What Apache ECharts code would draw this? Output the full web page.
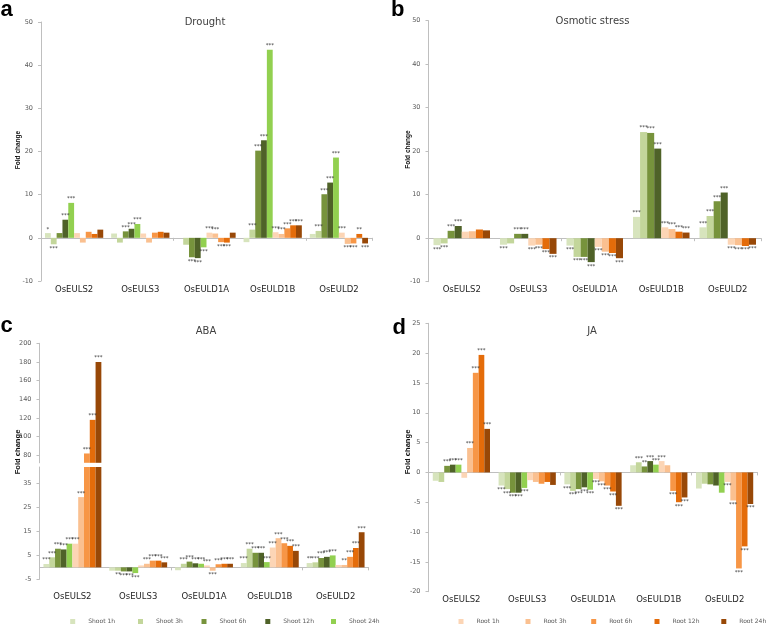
<!DOCTYPE html>
<html><head><meta charset="utf-8">
<script src="https://cdn.jsdelivr.net/npm/echarts@6/dist/echarts.min.js"></script>
<style>html,body{margin:0;padding:0;background:#fff}#c{width:778px;height:627px}</style>
</head><body><div id="c"></div>
<script>
const categories = ['OsEULS2','OsEULS3','OsEULD1A','OsEULD1B','OsEULD2'];
const shootNames = ['Shoot 1h','Shoot 3h','Shoot 6h','Shoot 12h','Shoot 24h'];
const rootNames = ['Root 1h','Root 3h','Root 6h','Root 12h','Root 24h'];
const shootColors = ['#d7e4bd','#c3d69b','#77933c','#4f6228','#92d050'];
const rootColors = ['#fcd5b5','#fac090','#f79646','#e46c0a','#984807'];

// tick labels
const ticksDrought = [-10,0,10,20,30,40,50];
const ticksOsmotic = [-10,0,10,20,30,40,50];
const ticksAbaUpper = [80,100,120,140,160,180,200];
const ticksAbaLower = [-5,5,15,25,35];
const ticksJa = [-20,-15,-10,-5,0,5,10,15,20,25];

// (a) Drought: rows S1h,S3h,S6h,S12h,S24h,R1h,R3h,R6h,R12h,R24h ; cols = categories
const droughtValues = [
  [1.1, 1.0, 0.0, -1.0, 0.9],
  [-1.5, -1.1, -1.6, 1.9, 1.6],
  [1.1, 1.5, -4.5, 20.2, 10.1],
  [4.2, 2.1, -4.7, 22.6, 12.8],
  [8.1, 3.2, -2.2, 43.6, 18.6],
  [1.1, 1.0, 1.2, 1.3, 1.2],
  [-1.1, -1.1, 1.0, 0.9, -1.4],
  [1.4, 1.2, -1.0, 2.2, -1.3],
  [0.9, 1.4, -1.1, 2.9, 0.9],
  [1.9, 1.2, 1.2, 2.9, -1.3]
];
const droughtSig = [
  ['*','','','',''],
  ['***','','','***','***'],
  ['','***','***','***','***'],
  ['***','***','***','***','***'],
  ['***','***','***','***','***'],
  ['','','***','***','***'],
  ['','','***','***','***'],
  ['','','***','***','***'],
  ['','','***','***','**'],
  ['','','','***','***']
];

// (b) Osmotic stress: 8 series
const osmoticNames = ['Shoot 1h','Shoot 3h','Shoot 6h','Shoot 12h','Root 1h','Root 3h','Root 12h','Root 24h'];
const osmoticColors = ['#d7e4bd','#c3d69b','#77933c','#4f6228','#fcd5b5','#fac090','#e46c0a','#984807'];
const osmoticValues = [
  [-1.6, -1.5, -1.7, 4.9, 2.5],
  [-1.2, -1.2, -4.3, 24.4, 5.1],
  [1.7, 1.0, -4.3, 24.2, 8.5],
  [2.8, 1.0, -5.5, 20.6, 10.5],
  [1.5, -1.7, -2.0, 2.5, -1.5],
  [1.6, -1.5, -3.1, 2.1, -1.6],
  [2.0, -2.5, -3.4, 1.5, -1.8],
  [1.8, -3.6, -4.6, 1.3, -1.5]
];
const osmoticSig = [
  ['***','***','***','***','***'],
  ['***','','***','***','***'],
  ['***','***','***','***','***'],
  ['***','***','***','***','***'],
  ['','***','***','***','***'],
  ['','***','***','***','***'],
  ['','***','***','***','***'],
  ['','***','***','***','***']
];

// (c) ABA
const abaValues = [
  [1.4, -1.4, -1.2, 1.8, 1.8],
  [4.2, -1.4, 1.5, 7.8, 2.1],
  [7.8, -1.7, 2.4, 6.1, 3.9],
  [7.5, -1.7, 1.7, 6.1, 4.4],
  [9.9, -2.4, 1.5, 2.2, 5.0],
  [9.9, 0.8, 0.8, 8.3, 1.0],
  [29.4, 1.5, -1.4, 12.2, 1.0],
  [82, 2.8, 1.3, 10.1, 4.4],
  [118, 2.8, 1.5, 9.0, 8.1],
  [180, 2.1, 1.5, 6.9, 14.7]
];
const abaSig = [
  ['***','','','***','**'],
  ['***','**','***','***','***'],
  ['***','***','***','***','***'],
  ['***','***','***','***','***'],
  ['***','***','***','***','***'],
  ['***','','***','***',''],
  ['***','***','***','***','**'],
  ['***','***','***','***','***'],
  ['***','***','***','***','***'],
  ['***','***','***','***','***']
];

// (d) JA
const jaValues = [
  [-1.4, -2.2, -2.0, 1.2, -2.7],
  [-1.6, -2.8, -3.1, 1.7, -1.9],
  [1.1, -3.4, -2.8, 1.0, -2.0],
  [1.3, -3.4, -2.5, 1.9, -2.2],
  [1.3, -2.6, -2.9, 1.3, -3.4],
  [-0.9, -1.3, -1.1, 1.9, -1.6],
  [4.1, -1.6, -1.5, 1.2, -4.7],
  [16.7, -1.9, -2.2, -3.1, -16.1],
  [19.7, -1.6, -3.2, -5.0, -12.4],
  [7.3, -2.1, -5.6, -4.2, -5.3]
];
const jaSig = [
  ['','***','***','',''],
  ['','***','***','***',''],
  ['***','***','***','**',''],
  ['***','***','***','***',''],
  ['***','***','***','***',''],
  ['','','***','***','***'],
  ['***','','***','','***'],
  ['***','','***','***','***'],
  ['***','','***','***','***'],
  ['***','','***','***','***']
];

const FONT = 'DejaVu Sans';
const allNames = shootNames.concat(rootNames);
const allColors = shootColors.concat(rootColors);

function makeSeries(name, color, values, sig, xIdx, yIdx, gap, visible) {
  return {
    type: 'bar', name: name, xAxisIndex: xIdx, yAxisIndex: yIdx,
    barGap: '0%', barCategoryGap: gap, animation: false, clip: true,
    itemStyle: { color: color },
    label: { fontSize: 5.5, color: '#333', fontFamily: FONT, distance: 1 },
    data: values.map((v, i) => ({
      value: v,
      label: { show: sig[i] !== '' && visible(v), formatter: sig[i], position: v >= 0 ? 'top' : 'bottom' }
    }))
  };
}

function yAxis(gridIndex, min, max, ticks) {
  return {
    type: 'value', gridIndex: gridIndex, min: min, max: max,
    splitLine: { show: false },
    axisLine: { show: true, lineStyle: { color: '#bfbfbf' } },
    axisTick: { show: true, length: 3, lineStyle: { color: '#bfbfbf' }, customValues: ticks },
    axisLabel: { fontSize: 6.5, color: '#595959', fontFamily: FONT, margin: 8, customValues: ticks }
  };
}
function xLabelAxis(gridIndex, margin) {
  return {
    type: 'category', gridIndex: gridIndex, data: categories, position: 'bottom',
    axisLine: { show: false, onZero: false }, axisTick: { show: false },
    axisLabel: { fontSize: 8.5, color: '#1f1f1f', fontFamily: FONT, margin: margin }
  };
}
function xZeroAxis(gridIndex) {
  return {
    type: 'category', gridIndex: gridIndex, data: categories, position: 'bottom',
    axisLine: { show: true, onZero: true, lineStyle: { color: '#bfbfbf' } },
    axisTick: { show: true, length: 3, lineStyle: { color: '#bfbfbf' } },
    axisLabel: { show: false }
  };
}

const series = [];
const always = () => true;
droughtValues.forEach((vals, k) => series.push(makeSeries(allNames[k], allColors[k], vals, droughtSig[k], 0, 0, '12%', always)));
osmoticValues.forEach((vals, k) => series.push(makeSeries(osmoticNames[k], osmoticColors[k], vals, osmoticSig[k], 2, 1, '15%', always)));
abaValues.forEach((vals, k) => series.push(makeSeries(allNames[k], allColors[k], vals, abaSig[k], 4, 2, '12%', v => v > 72)));
abaValues.forEach((vals, k) => series.push(makeSeries(allNames[k], allColors[k], vals, abaSig[k], 5, 3, '12%', v => v <= 42)));
jaValues.forEach((vals, k) => series.push(makeSeries(allNames[k], allColors[k], vals, jaSig[k], 7, 4, '13%', always)));

const shootLegendX = [70.2, 138, 201.5, 265.3, 331];
const rootLegendX = [458.5, 525.5, 591.2, 654.5, 721.3];
const legends = [];
shootNames.forEach((n, i) => legends.push({ data: [n], left: shootLegendX[i] }));
rootNames.forEach((n, i) => legends.push({ data: [n], left: rootLegendX[i] }));
legends.forEach(l => Object.assign(l, {
  top: 618.5, padding: 0, itemWidth: 5, itemHeight: 5, icon: 'rect', selectedMode: false,
  textStyle: { fontSize: 6, color: '#595959', fontFamily: FONT, padding: [0, 0, 0, 8] }
}));

function txt(text, x, y, opts) {
  return Object.assign({ type: 'text', x: x, y: y, silent: true,
    style: Object.assign({ text: text, fill: '#404040', align: 'center', verticalAlign: 'middle', font: '10px "DejaVu Sans"' }, opts.style || {}) },
    opts.rotation !== undefined ? { rotation: opts.rotation } : {});
}
const graphics = [
  txt('a', 0.5, 9.6, { style: { align: 'left', fill: '#000', font: 'bold 22px "Liberation Sans"' } }),
  txt('b', 391, 9.6, { style: { align: 'left', fill: '#000', font: 'bold 22px "Liberation Sans"' } }),
  txt('c', 0.5, 326, { style: { align: 'left', fill: '#000', font: 'bold 22px "Liberation Sans"' } }),
  txt('d', 392.5, 327.5, { style: { align: 'left', fill: '#000', font: 'bold 22px "Liberation Sans"' } }),
  txt('Drought', 205, 22, {}),
  txt('Osmotic stress', 592.5, 21.7, {}),
  txt('ABA', 206, 331.7, {}),
  txt('JA', 592, 331.3, {}),
  txt('Fold change', 18.3, 150, { rotation: Math.PI / 2, style: { fill: '#111', font: 'bold 6.5px "Liberation Sans"' } }),
  txt('Fold change', 408.3, 149.5, { rotation: Math.PI / 2, style: { fill: '#111', font: 'bold 6.5px "Liberation Sans"' } }),
  txt('Fold change', 18.3, 452, { rotation: Math.PI / 2, style: { fill: '#111', font: 'bold 7.6px "Liberation Sans"' } }),
  txt('Fold change', 408, 452, { rotation: Math.PI / 2, style: { fill: '#111', font: 'bold 7.6px "Liberation Sans"' } })
];

const option = {
  animation: false,
  backgroundColor: '#fff',
  textStyle: { fontFamily: FONT },
  grid: [
    { left: 41, top: 22, width: 331, height: 259 },
    { left: 428.5, top: 20.7, width: 332.5, height: 261 },
    { left: 39.5, top: 343.3, width: 329, height: 119.5 },
    { left: 39.5, top: 467, width: 329, height: 112.3 },
    { left: 428.5, top: 323.3, width: 329, height: 268.4 }
  ],
  xAxis: [
    xLabelAxis(0, 4), xZeroAxis(0),
    xLabelAxis(1, 4), xZeroAxis(1),
    { type: 'category', gridIndex: 2, data: categories, show: false },
    xLabelAxis(3, 13), xZeroAxis(3),
    xLabelAxis(4, 4), xZeroAxis(4)
  ],
  yAxis: [
    yAxis(0, -10, 50, ticksDrought),
    yAxis(1, -10, 50, ticksOsmotic),
    yAxis(2, 72, 200, ticksAbaUpper),
    yAxis(3, -5, 42, ticksAbaLower),
    yAxis(4, -20, 25, ticksJa)
  ],
  legend: legends,
  graphic: graphics,
  series: series
};
const chart = echarts.init(document.getElementById('c'), null, { renderer: 'canvas' });
chart.setOption(option);
</script></body></html>
